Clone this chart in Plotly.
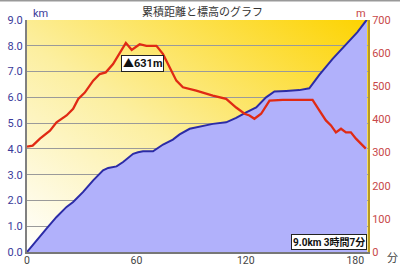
import base64
import plotly.graph_objects as go

# --- data ---
dist_t = [0, 5.3, 10.8, 16.2, 21.7, 25.3, 30.8, 36.3, 41.7, 44.5, 49.1, 52.7, 58.2, 60.9,
          63.6, 69.1, 74.6, 80.0, 83.7, 89.2, 94.6, 101.9, 109.2, 114.7, 120.2, 125.7,
          131.1, 135.7, 142.1, 149.3, 154.8, 160.3, 167.6, 174.9, 181.2, 185.8, 186.5]
dist_km = [0, 0.46, 0.92, 1.36, 1.75, 1.94, 2.33, 2.78, 3.17, 3.26, 3.32, 3.49, 3.81, 3.87,
           3.91, 3.91, 4.17, 4.36, 4.56, 4.78, 4.86, 4.97, 5.03, 5.20, 5.42, 5.61,
           6.00, 6.23, 6.25, 6.28, 6.35, 6.87, 7.49, 8.07, 8.53, 8.96, 9.0]

elev_t = [0, 3.1, 7.1, 12.6, 16.2, 21.7, 25.3, 28.1, 31.7, 36.3, 39.9, 43.2, 47.2, 50.9,
          54.2, 57.4, 61.8, 65.5, 71.0, 74.6, 78.2, 81.9, 85.5, 92.8, 101.9, 109.2, 114.7,
          119.3, 122.0, 124.7, 128.4, 133.0, 140.2, 156.6, 160.3, 163.9, 166.7, 169.4,
          172.2, 174.9, 177.6, 180.4, 185.8]
elev_m = [318, 321, 342, 366, 391, 412, 432, 462, 481, 517, 537, 542, 567, 602,
          631, 610, 627, 622, 622, 597, 557, 517, 497, 487, 472, 462, 436,
          417, 412, 402, 417, 457, 459, 459, 427, 397, 382, 361,
          372, 361, 361, 342, 312]

x_ticks = [0, 60, 120, 180]
km_ticks = [0, 1, 2, 3, 4, 5, 6, 7, 8, 9]
m_ticks = [0, 100, 200, 300, 400, 500, 600, 700]

title_text = "累積距離と標高のグラフ"
summary_text = "9.0km 3時間7分"
peak_val = max(elev_m)
peak_t = elev_t[elev_m.index(peak_val)]

FONT = "Roboto, 'Noto Sans CJK JP', sans-serif"

svg = ('<svg xmlns="http://www.w3.org/2000/svg" width="100" height="100" preserveAspectRatio="none">'
       '<defs><linearGradient id="g" x1="0" y1="1" x2="1" y2="0">'
       '<stop offset="0" stop-color="#ffffff"/>'
       '<stop offset="0.45" stop-color="#fcefa0"/>'
       '<stop offset="1" stop-color="#fdd300"/>'
       '</linearGradient></defs>'
       '<rect width="100" height="100" fill="url(#g)"/></svg>')
svg_uri = "data:image/svg+xml;base64," + base64.b64encode(svg.encode()).decode()

PH = 232.0  # plot height in px

fig = go.Figure()
fig.add_trace(go.Scatter(x=dist_t, y=dist_km, mode="lines", fill="tozeroy",
                         fillcolor="#b1b1fb", line=dict(color="#2b2ba6", width=2),
                         yaxis="y", hoverinfo="skip", showlegend=False))
fig.add_trace(go.Scatter(x=elev_t, y=elev_m, mode="lines",
                         line=dict(color="#e02a14", width=2.3),
                         yaxis="y2", hoverinfo="skip", showlegend=False))

fig.update_layout(
    width=400, height=267,
    margin=dict(l=27, r=32, t=20, b=15),
    paper_bgcolor="white",
    plot_bgcolor="rgba(0,0,0,0)",
    font=dict(family=FONT, size=11),
    images=[dict(source=svg_uri, xref="paper", yref="paper", x=0, y=1,
                 sizex=1, sizey=1, sizing="stretch", layer="below")],
    xaxis=dict(range=[0, 187], tickvals=x_ticks, showgrid=False, zeroline=False,
               showline=True, linecolor="#777", linewidth=2, automargin=False,
               ticks="", ticklabelstandoff=-3,
               tickfont=dict(color="#444", size=10.5)),
    yaxis=dict(range=[0, 9], tickvals=km_ticks, tickformat=".1f", automargin=False,
               showgrid=True, gridcolor="#9a9a9a", gridwidth=1, zeroline=False,
               showline=True, linecolor="#808080", linewidth=2,
               tickfont=dict(color="#3a3a9a", size=11)),
    yaxis2=dict(range=[0, 700], tickvals=m_ticks, overlaying="y", side="right",
                showgrid=False, zeroline=False, showline=True, automargin=False,
                linecolor="#b89a20", linewidth=2,
                tickfont=dict(color="#c84848", size=11)),
    shapes=[dict(type="line", xref="paper", yref="paper", x0=-0.1, x1=1.1,
                 y0=1 + 19.5 / PH, y1=1 + 19.5 / PH,
                 line=dict(color="#999", width=2))],
    annotations=[
        dict(text=title_text, xref="paper", yref="paper", x=0.515, y=1 + 8 / PH,
             xanchor="center", yanchor="middle", showarrow=False,
             font=dict(size=11, color="#333")),
        dict(text="km", xref="paper", yref="paper", x=0.012, y=1 + 6 / PH,
             xanchor="left", yanchor="middle", showarrow=False,
             font=dict(size=11, color="#3a3a9a")),
        dict(text="m", xref="paper", yref="paper", x=1.0, y=1 + 6 / PH,
             xanchor="right", yanchor="middle", showarrow=False,
             font=dict(size=11, color="#c84848")),
        dict(text="分", xref="paper", yref="paper", x=1.05, y=-6 / PH,
             xanchor="left", yanchor="middle", showarrow=False,
             font=dict(size=11, color="#444")),
        dict(text="<b>▲%dm</b>" % peak_val, x=peak_t, y=peak_val, xref="x", yref="y2",
             xshift=17, yshift=-21, showarrow=False,
             bgcolor="white", bordercolor="#222", borderwidth=1, borderpad=1,
             font=dict(size=11, color="#111")),
        dict(text="<b>%s</b>" % summary_text, xref="paper", yref="paper", x=0.997, y=0.01,
             xanchor="right", yanchor="bottom", showarrow=False,
             bgcolor="white", bordercolor="#222", borderwidth=1, borderpad=1,
             font=dict(size=10, color="#111")),
    ],
)

fig.write_html("out.html")
